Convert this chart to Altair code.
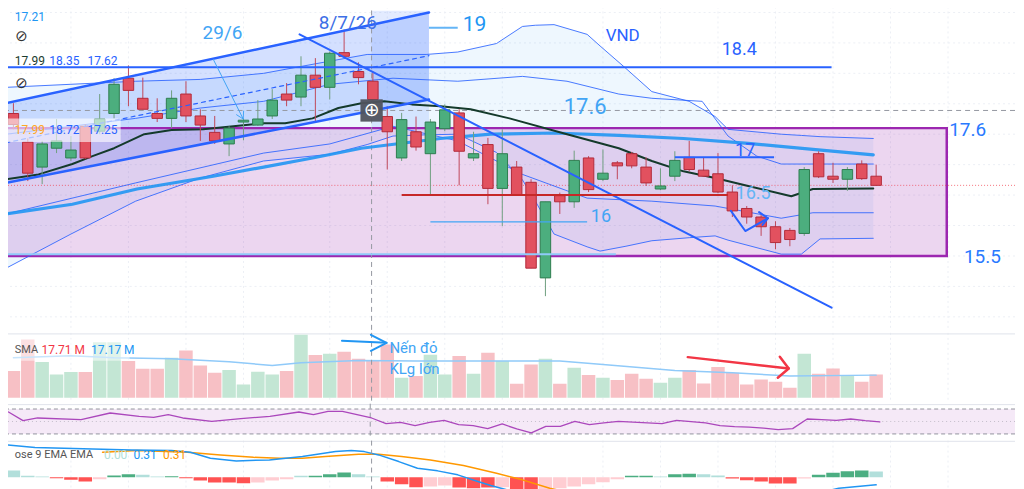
import altair as alt
import pandas as pd

# ---------------- candles ----------------
candle_open = [17.84,17.37,16.96,17.27,17.11,17.63,17.55,17.84,18.42,18.09,
               17.84,17.76,18.16,17.80,17.53,17.34,17.70,17.65,17.80,18.16,
               18.11,18.47,18.27,18.84,18.53,18.37,17.79,17.11,17.54,17.18,
               17.59,17.85,17.11,17.33,16.61,16.96,16.71,15.14,16.49,16.39,
               17.11,16.76,17.03,17.18,16.96,16.60,16.81,17.12,16.91,16.85,
               16.55,16.28,16.14,15.98,15.92,15.87,17.18,16.81,16.76,17.01,
               16.81]
candle_high = [18.01,17.43,17.39,17.75,17.47,17.66,18.16,18.42,18.63,18.43,
               18.09,18.22,18.37,17.91,17.80,17.63,17.76,18.06,18.24,18.34,
               18.78,18.75,18.86,19.22,18.68,18.53,17.96,17.85,17.79,17.75,
               17.99,17.91,17.54,17.44,17.58,17.06,16.76,16.39,16.54,17.23,
               17.14,17.25,17.06,17.21,17.12,16.94,17.22,17.39,17.11,17.19,
               16.66,16.32,16.18,16.07,15.96,16.96,17.22,17.03,16.96,17.07,
               17.00]
candle_low = [17.58,16.73,16.68,17.19,17.06,17.09,17.50,17.76,17.96,17.91,
              17.70,17.60,17.70,17.39,17.34,17.14,17.40,17.64,17.75,17.96,
              17.96,17.71,18.07,18.76,18.32,18.04,16.92,17.06,17.23,16.50,
              17.55,16.66,17.06,16.35,15.99,16.50,15.30,14.84,16.19,16.29,
              16.55,16.73,16.76,16.94,16.65,16.58,16.73,16.89,16.80,16.53,
              16.14,16.03,15.83,15.61,15.66,15.83,16.78,16.70,16.57,16.75,
              16.65]
candle_close = [17.66,16.86,17.34,17.39,17.24,17.11,17.75,18.32,18.22,17.91,
                17.76,18.09,17.80,17.65,17.39,17.60,17.73,17.75,18.06,18.06,
                18.47,18.27,18.83,18.78,18.43,18.07,17.54,17.74,17.29,17.70,
                17.90,17.22,17.18,16.61,17.18,16.50,15.30,16.39,16.39,17.07,
                16.59,16.86,16.98,16.98,16.70,16.65,17.07,16.92,16.81,16.55,
                16.24,16.14,15.98,15.72,15.77,16.92,16.80,16.76,16.92,16.77,
                16.66]
volume_m = [20.3,44.3,27.1,17.7,19.5,19.5,42.3,42.3,27.9,22.0,
            22.0,30.4,35.9,24.5,19.0,21.1,10.1,19.8,17.7,20.3,
            47.9,32.5,33.4,35.0,29.6,28.7,40.5,15.2,16.5,32.7,
            17.7,31.7,18.2,34.2,27.9,10.6,25.3,29.6,10.6,22.8,
            17.3,15.2,13.5,18.2,14.4,11.4,15.2,21.1,10.9,23.3,
            19.0,10.1,13.9,12.2,7.6,33.4,18.2,22.3,17.3,12.2,
            17.7]

# ---------------- indicators ----------------
vol_sma_i = [0,4,7,11,15,18,20,24,28,33,38,41,46,50,54,60]
vol_sma = [30.4,31.9,30.4,29.6,27.4,24.5,26.6,28.3,27.9,27.9,27.9,25.3,20.7,19.0,16.5,17.2]

rsi_i = [0,1,2,5,7,9,10,11,12,14,16,18,20,21,22,23,24,25,26,27,28,29,30,31,32,33,34,35,
         36,37,38,39,40,41,42,43,44,45,46,47,48,49,50,51,52,53,54,55,56,57,58,59,60]
rsi = [65.2,51.3,55.6,52.9,63.6,58.2,56.6,60.9,55.6,50.2,54.5,58.2,65.2,60.9,66.2,66.2,
       60.9,55.6,46.5,48.6,43.3,48.6,51.8,44.9,43.3,38.5,46.0,38.0,31.6,42.2,42.2,50.2,
       44.9,47.6,50.2,48.9,47.6,46.5,51.8,49.7,47.6,43.3,41.7,40.9,39.3,36.9,38.5,54.0,
       52.9,51.8,54.0,51.3,49.2]

macd_i = [-0.5,1.5,8.2,11.0,12.3,13.7,15.5,17.8,20.1,22.4,23.5,24.4,25.4,26.8,28.1,29.5,
          30.9,32.3,33.2,34.3,35.2,38.0,42.3,45.3,47.6,49.2,50.8,53.1,55.6,57.4,60.0]
macd = [0.324,0.297,0.274,0.267,0.25,0.19,0.164,0.174,0.207,0.257,0.267,0.257,0.224,0.157,
        0.09,0.064,0.024,-0.043,-0.083,-0.126,-0.183,-0.26,-0.183,-0.143,-0.126,-0.143,
        -0.183,-0.233,-0.17,-0.11,-0.076]
signal_i = [6.2,8.6,12.1,14.4,16.7,18.5,20.1,21.7,24.0,25.4,27.0,29.0,31.3,33.6,35.4,37.3,
            38.9,40.7,43.5,45.3,48.1,50.3,53.1,56.0,58.4,60.0]
signal = [0.25,0.267,0.25,0.224,0.2,0.19,0.19,0.207,0.23,0.23,0.207,0.174,0.117,0.04,
          -0.026,-0.11,-0.16,-0.183,-0.198,-0.176,-0.16,-0.166,-0.193,-0.193,-0.16,-0.136]
hist = [0.067,0.014,0.007,-0.01,-0.026,-0.043,-0.02,0.017,0.03,0.024,
        0.007,0.01,-0.01,-0.033,-0.053,-0.053,-0.06,-0.053,-0.033,-0.02,
        0.014,0.014,0.03,0.047,0.03,0.007,-0.043,-0.07,-0.10,-0.093,
        -0.083,-0.103,-0.11,-0.103,-0.10,-0.19,-0.2,-0.17,-0.11,-0.093,
        -0.07,-0.05,-0.02,0.014,0.014,0.007,0.03,0.034,0.03,0.017,
        -0.013,-0.03,-0.043,-0.063,-0.063,-0.013,0.024,0.044,0.06,0.067,0.057]
hist_kind = list("gggRRRrGGggGRRRRRrrrgGGGggRRRrrRRRrRRrrrrrrGGgGGggRRRRRrGGGGg")

bb_i = [-0.5,4,8.5,13,17.4,22,24.6,26.4,28.7,30.9,33.6,35.4,36.3,37.6,39.9,40.8,42.6,44.4,
        47.0,48.8,49.7,53.4,54.8,56.1,59.8]
bb_upper2 = [18.27,18.32,18.37,18.40,18.50,18.70,18.81,18.81,18.81,18.85,18.99,19.27,19.29,
             19.30,19.14,18.95,18.58,18.20,18.04,17.79,17.58,17.50,17.48,17.46,17.43]
bb_lower2 = [15.30,15.86,16.40,16.78,17.06,17.17,17.33,17.47,17.49,17.50,17.20,16.75,16.40,
             15.86,15.65,15.58,15.66,15.75,15.80,15.83,15.76,15.53,15.53,15.78,15.79]
bbu1_i = [-0.5,8.5,13.0,17.4,22.0,26.4,30.9,35.4,38.5,42.1,44.4,47.9,49.7,51.7,53.4,59.8]
bb_upper1 = [17.50,17.76,17.93,18.04,18.32,18.42,18.37,18.45,18.37,18.16,18.09,18.04,17.47,
             17.14,17.01,17.01]
bbl1_i = [-0.5,8.5,17.4,22.0,26.4,30.9,35.4,39.9,44.4,48.8,53.4,55.6,59.8]
bb_lower1 = [16.19,16.70,17.19,17.34,17.63,17.39,16.84,16.45,16.40,16.32,16.12,16.21,16.21]
basis_i = [-0.5,1.75,4.1,5.5,7.0,9.1,11.0,13.2,15.3,17.4,18.9,20.8,22.6,24.2,25.8,27.7,29.7,
           31.8,34.5,38.5,42.1,44.4,46.6,48.8,51.1,54.1,55.6,59.8]
basis = [16.76,16.84,17.01,17.14,17.27,17.50,17.57,17.58,17.63,17.68,17.68,17.76,17.93,18.01,
         18.04,17.99,17.96,17.91,17.76,17.50,17.27,17.06,16.89,16.78,16.65,16.48,16.60,16.61]
ma_i = [-0.5,4.1,8.6,13.9,17.4,20.8,24.2,29.7,33.2,37.6,42.1,46.6,51.1,55.6,59.8]
ma = [16.19,16.35,16.60,16.81,16.96,17.11,17.27,17.43,17.50,17.52,17.48,17.43,17.35,17.25,17.16]

# ---------------- drawings (in candle index / price units) ----------------
channel_i = [-0.52, 28.9]
channel_top = [18.01, 19.50]
channel_bottom = [16.70, 18.07]
channel_mid = [17.36, 18.79]
down_i = [19.9, 56.9]
down_p = [19.14, 14.65]
box_i = [-0.52, 64.91]
box_p = [15.50, 17.60]
range_i = [24.9, 28.9]
range_p = [17.60, 19.53]
lvl_184_i = [-0.52, 56.9]
lvl_184 = 18.60
lvl_19_i = [28.9, 30.9]
lvl_19 = 19.25
lvl_17_i = [46.0, 52.9]
lvl_17 = 17.12
lvl_16_i = [29.0, 39.9]
lvl_16 = 16.06
support_i = [27.0, 49.7]
support = 16.50
box_low_i = [-0.52, 41.9]
box_low = 15.53
cross_i = 24.91
cross_p = 17.89
last_price = 16.66

arrow296_i = [13.9, 15.98]
arrow296_p = [18.73, 17.75]
arrow296_head_i = [15.52, 15.98, 16.01]
arrow296_head_p = [17.82, 17.75, 17.88]
zig_i = [49.9, 50.9, 52.48]
zig_p = [16.24, 15.91, 16.12]
zig_head_i = [51.86, 52.48, 52.1]
zig_head_p = [16.22, 16.12, 16.01]
varrow_i = [22.85, 25.95]
varrow_v = [43.3, 41.8]
varrow_head_i = [24.86, 25.95, 24.86]
varrow_head_v = [47.9, 41.8, 35.7]
rarrow_i = [46.9, 53.92]
rarrow_v = [30.9, 22.3]
rarrow_head_i = [53.3, 53.92, 53.16]
rarrow_head_v = [31.2, 22.3, 15.2]

ann_text = ["29/6", "8/7/26", "19", "VND", "18.4", "17.6", "17.6", "15.5", "17", "16.5", "16"]
ann_i = [14.54, 23.26, 32.06, 42.37, 50.48, 39.76, 66.36, 67.39, 50.89, 51.44, 40.86]
ann_p = [19.16, 19.33, 19.29, 19.11, 18.88, 17.95, 17.57, 15.48, 17.22, 16.52, 16.14]
ann_size = [19, 19, 21, 17, 18, 22, 19, 19, 18, 18, 18]
ann_color = ["#42a5f5", "#3d6fe6", "#2196f3", "#2962ff", "#2962ff", "#42a5f5",
             "#2979ff", "#2979ff", "#2962ff", "#64b5f6", "#42a5f5"]

leg_text = ["17.21", "17.99", "18.35", "17.62", "17.99", "18.72", "17.25"]
leg_i = [0.1, 0.1, 2.5, 5.15, 0.1, 2.5, 5.15]
leg_p = [19.43, 18.70, 18.70, 18.70, 17.57, 17.57, 17.57]
leg_color = ["#2196f3", "#1b3d2f", "#2962ff", "#2962ff", "#ffa726", "#2962ff", "#2962ff"]

vleg_text = ["SMA", "17.71 M", "17.17 M"]
vleg_i = [0.1, 1.95, 5.4]
vleg_color = ["#555555", "#f23645", "#2196f3"]
note_text = ["Nến đỏ", "KLg lớn"]
note_v = [38.0, 22.0]
mleg_text = ["ose 9 EMA EMA", "0.00", "0.31", "0.31"]
mleg_i = [0.1, 6.3, 8.35, 10.4]
mleg_color = ["#555555", "#b2dfdb", "#2196f3", "#ff9800"]

grid_i = [4, 8, 12, 16, 22, 26, 30, 34, 41, 45, 49, 53, 57, 61, 65]
grid_p = [19.5, 19.0, 18.5, 18.0, 17.5, 17.0, 16.5, 16.0, 15.5, 15.0, 14.5]

# ---------------- helpers ----------------
W = 1016
FONT = "Roboto"
XMAX = 69.31
XS = alt.Scale(domain=[-0.515, XMAX], nice=False, zero=False)
S_MAIN = alt.Scale(domain=[14.27, 19.68], nice=False, zero=False)
S_VOL = alt.Scale(domain=[-3.04, 49.4], nice=False, zero=False)
S_RSI = alt.Scale(domain=[22.5, 78.5], nice=False, zero=False)
S_MACD = alt.Scale(domain=[-0.183, 0.367], nice=False, zero=False)


def X(f="i"):
    return alt.X(f"{f}:Q", scale=XS, axis=None)


def Y(f, s):
    return alt.Y(f"{f}:Q", scale=s, axis=None)


def line(xs, ys, s, color, width=1.0, dash=None, opacity=1.0):
    df = pd.DataFrame({"i": xs, "v": ys, "k": list(range(len(xs)))})
    kw = dict(color=color, strokeWidth=width, opacity=opacity, clip=True,
              strokeCap="round", strokeJoin="round")
    if dash:
        kw["strokeDash"] = dash
    return alt.Chart(df).mark_line(**kw).encode(x=X(), y=Y("v", s), order=alt.Order("k:Q"))


def hseg(xr, yv, s, color, width, dash=None, opacity=1.0):
    df = pd.DataFrame({"i": [xr[0]], "i2": [xr[1]], "v": [yv]})
    kw = dict(color=color, strokeWidth=width, opacity=opacity, clip=True)
    if dash:
        kw["strokeDash"] = dash
    return alt.Chart(df).mark_rule(**kw).encode(x=X(), x2="i2:Q", y=Y("v", s))


def hfull(vals, s, color, width, dash=None, opacity=1.0):
    df = pd.DataFrame({"v": vals})
    kw = dict(color=color, strokeWidth=width, opacity=opacity)
    if dash:
        kw["strokeDash"] = dash
    return alt.Chart(df).mark_rule(**kw).encode(y=Y("v", s))


def vfull(vals, color, width, dash=None, opacity=1.0):
    df = pd.DataFrame({"i": vals})
    kw = dict(color=color, strokeWidth=width, opacity=opacity)
    if dash:
        kw["strokeDash"] = dash
    return alt.Chart(df).mark_rule(**kw).encode(x=X())


def band(xs, a, b, s, color, opacity):
    df = pd.DataFrame({"i": xs, "a": a, "b": b})
    return alt.Chart(df).mark_area(color=color, opacity=opacity, clip=True).encode(
        x=X(), y=Y("a", s), y2="b:Q")


def box(xr, yr, s, fill, opacity, stroke=None, sw=0):
    df = pd.DataFrame({"i": [xr[0]], "i2": [xr[1]], "a": [yr[0]], "b": [yr[1]]})
    kw = dict(fill=fill, fillOpacity=opacity, clip=True)
    if stroke:
        kw["stroke"] = stroke
        kw["strokeWidth"] = sw
    return alt.Chart(df).mark_rect(**kw).encode(x=X(), x2="i2:Q", y=Y("a", s), y2="b:Q")


def texts(t, xs, ys, s, sizes, colors, align="center", font=FONT, weight="normal"):
    df = pd.DataFrame({"t": t, "i": xs, "v": ys, "sz": sizes, "col": colors})
    return alt.Chart(df).mark_text(align=align, baseline="middle", font=font,
                                   fontWeight=weight).encode(
        x=X(), y=Y("v", s), text="t:N",
        size=alt.Size("sz:Q", scale=None),
        color=alt.Color("col:N", scale=None))


# ---------------- candle table ----------------
cdf = pd.DataFrame({"i": list(range(len(candle_open))), "o": candle_open, "h": candle_high,
                    "l": candle_low, "c": candle_close, "vol": volume_m})
up = cdf["c"] >= cdf["o"]
cdf["bl"] = cdf[["o", "c"]].min(axis=1)
cdf["bh"] = cdf[["o", "c"]].max(axis=1)
cdf["fill"] = up.map({True: "#4cae7e", False: "#e2515f"})
cdf["edge"] = up.map({True: "#2e7d4f", False: "#b22b3b"})
cdf["wick"] = up.map({True: "#6f9f80", False: "#c0485a"})
cdf["vcol"] = up.map({True: "#c3e6d4", False: "#f7c0c5"})
cdf["zero"] = 0.0
kind_color = {"G": "#4cae82", "g": "#b2dfdb", "R": "#ff5252", "r": "#ffcdd2"}
cdf["hist"] = hist
cdf["hcol"] = [kind_color[k] for k in hist_kind]

GRID = "#eceff5"
BLUE = "#2962ff"

# ---------------- main pane ----------------
wicks = alt.Chart(cdf).mark_rule(strokeWidth=1, clip=True).encode(
    x=X(), y=Y("l", S_MAIN), y2="h:Q", color=alt.Color("wick:N", scale=None))
bodies = alt.Chart(cdf).mark_bar(size=10.5, strokeWidth=1, clip=True).encode(
    x=X(), y=Y("bl", S_MAIN), y2="bh:Q",
    color=alt.Color("fill:N", scale=None), stroke=alt.Stroke("edge:N", scale=None))

icon_df = pd.DataFrame({"i": [cross_i], "v": [cross_p]})
icon_sq = alt.Chart(icon_df).mark_point(shape="square", size=500, filled=True,
                                        color="#50535e", opacity=0.95).encode(
    x=X(), y=Y("v", S_MAIN))
icon_tx = alt.Chart(icon_df).mark_text(text="⊕", font="DejaVu Sans", fontSize=19,
                                       color="white", baseline="middle", align="center").encode(
    x=X(), y=Y("v", S_MAIN))

main = alt.layer(
    vfull(grid_i, GRID, 1, dash=[2, 3]),
    hfull(grid_p, S_MAIN, GRID, 1, dash=[2, 3]),
    band(bb_i, bb_upper2, bb_lower2, S_MAIN, "#2196f3", 0.08),
    band(channel_i, channel_top, channel_bottom, S_MAIN, BLUE, 0.2),
    box(range_i, range_p, S_MAIN, BLUE, 0.13),
    box(box_i, box_p, S_MAIN, "#9c27b0", 0.19, stroke="#9c27b0", sw=2.5),
    hfull([cross_p], S_MAIN, "#9598a1", 1, dash=[5, 4]),
    vfull([cross_i], "#9598a1", 1, dash=[5, 4]),
    hfull([last_price], S_MAIN, "#f23645", 1, dash=[1, 2], opacity=0.7),
    line(bb_i, bb_upper2, S_MAIN, BLUE, 1, opacity=0.85),
    line(bb_i, bb_lower2, S_MAIN, BLUE, 1, opacity=0.85),
    line(bbu1_i, bb_upper1, S_MAIN, BLUE, 1, opacity=0.85),
    line(bbl1_i, bb_lower1, S_MAIN, BLUE, 1, opacity=0.85),
    line(ma_i, ma, S_MAIN, "#2196f3", 3.2, opacity=0.9),
    line(basis_i, basis, S_MAIN, "#143a2b", 2),
    wicks,
    bodies,
    line(channel_i, channel_top, S_MAIN, BLUE, 2.5),
    line(channel_i, channel_bottom, S_MAIN, BLUE, 2.5),
    line(channel_i, channel_mid, S_MAIN, BLUE, 1.2, dash=[4, 4]),
    line(down_i, down_p, S_MAIN, BLUE, 2),
    hseg(lvl_184_i, lvl_184, S_MAIN, BLUE, 2),
    hseg(lvl_19_i, lvl_19, S_MAIN, "#64b5f6", 2),
    hseg(lvl_17_i, lvl_17, S_MAIN, BLUE, 2),
    hseg(lvl_16_i, lvl_16, S_MAIN, "#42a5f5", 1.5),
    hseg(support_i, support, S_MAIN, "#c62828", 2),
    hseg(box_low_i, box_low, S_MAIN, "#90caf9", 2),
    box([-0.52, 7.46], [17.37, 17.76], S_MAIN, "white", 0.6),
    line(arrow296_i, arrow296_p, S_MAIN, "#42a5f5", 1),
    line(arrow296_head_i, arrow296_head_p, S_MAIN, "#42a5f5", 1),
    line(zig_i, zig_p, S_MAIN, BLUE, 2),
    line(zig_head_i, zig_head_p, S_MAIN, BLUE, 2),
    texts(ann_text, ann_i, ann_p, S_MAIN, ann_size, ann_color),
    texts(leg_text, leg_i, leg_p, S_MAIN, [12] * len(leg_text), leg_color, align="left"),
    texts(["⊘", "⊘"], [0.12, 0.12], [19.12, 18.34], S_MAIN, [15, 15],
          ["#333333", "#333333"], align="left", font="DejaVu Sans"),
    icon_sq,
    icon_tx,
).properties(width=W, height=330)

# ---------------- volume pane ----------------
vbars = alt.Chart(cdf).mark_bar(size=13.5, clip=True).encode(
    x=X(), y=Y("vol", S_VOL), y2="zero:Q", color=alt.Color("vcol:N", scale=None))
vol = alt.layer(
    vfull(grid_i, GRID, 1, dash=[2, 3]),
    hfull([48.6], S_VOL, "#e0e3eb", 1),
    vbars,
    line(vol_sma_i, vol_sma, S_VOL, "#90caf9", 1.5),
    vfull([cross_i], "#9598a1", 1, dash=[5, 4]),
    box([-0.52, 8.08], [28.1, 44.8], S_VOL, "white", 0.5),
    texts(vleg_text, vleg_i, [36.5] * 3, S_VOL, [11, 12, 12], vleg_color, align="left"),
    line(varrow_i, varrow_v, S_VOL, "#2196f3", 2),
    line(varrow_head_i, varrow_head_v, S_VOL, "#2196f3", 2),
    line(rarrow_i, rarrow_v, S_VOL, "#f23645", 2.5),
    line(rarrow_head_i, rarrow_head_v, S_VOL, "#f23645", 2.5),
    texts(note_text, [26.15, 26.15], note_v, S_VOL, [15, 15], ["#42a5f5", "#42a5f5"],
          align="left"),
).properties(width=W, height=69)

# ---------------- RSI pane ----------------
rsi_pane = alt.layer(
    hfull([77.0], S_RSI, "#e0e3eb", 1),
    box([-0.515, XMAX], [30, 70], S_RSI, "#9c27b0", 0.1),
    hfull([70, 30], S_RSI, "#787b86", 1, dash=[4, 3], opacity=0.8),
    hfull([50], S_RSI, "#787b86", 1, dash=[1, 3], opacity=0.4),
    vfull([cross_i], "#9598a1", 1, dash=[5, 4]),
    line(rsi_i, rsi, S_RSI, "#ab47bc", 1.3),
).properties(width=W, height=35)

# ---------------- MACD pane ----------------
hbars = alt.Chart(cdf).mark_bar(size=13.5, clip=True).encode(
    x=X(), y=Y("hist", S_MACD), y2="zero:Q", color=alt.Color("hcol:N", scale=None))
macd_pane = alt.layer(
    vfull(grid_i, GRID, 1, dash=[2, 3]),
    hfull([0.36], S_MACD, "#e0e3eb", 1),
    hbars,
    line(signal_i, signal, S_MACD, "#ff9800", 1.5),
    line(macd_i, macd, S_MACD, "#2196f3", 1.5),
    vfull([cross_i], "#9598a1", 1, dash=[5, 4]),
    texts(mleg_text, mleg_i, [0.227] * 4, S_MACD, [11, 12, 12, 12], mleg_color, align="left"),
).properties(width=W, height=55)

chart = alt.vconcat(main, vol, rsi_pane, macd_pane, spacing=0).resolve_scale(
    y="independent"
).properties(
    padding={"left": -8, "top": -8, "right": 0, "bottom": 0},
    background="white",
).configure_view(strokeWidth=0)

chart.save("out.html", embed_options={"renderer": "svg", "actions": False})
